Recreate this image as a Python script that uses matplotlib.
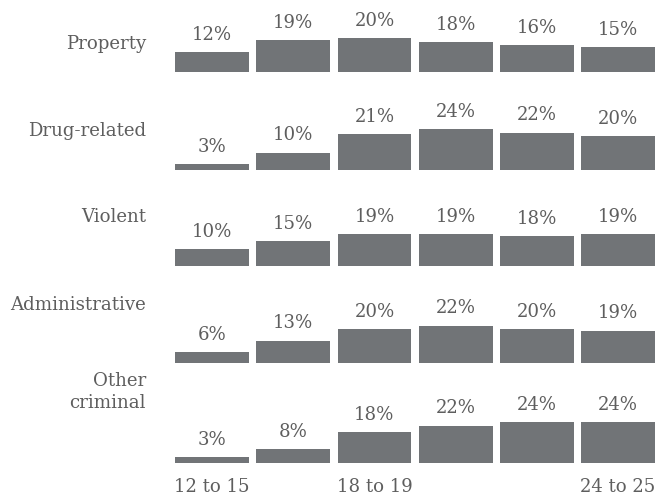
import matplotlib
matplotlib.use("Agg")
import matplotlib.pyplot as plt

# share of offences by age group, one row per offence type
offence_types = ["Property", "Drug-related", "Violent", "Administrative", "Other\ncriminal"]
age_labels = ["12 to 15", "", "18 to 19", "", "", "24 to 25"]

property_pct = [12, 19, 20, 18, 16, 15]
drug_pct = [3, 10, 21, 24, 22, 20]
violent_pct = [10, 15, 19, 19, 18, 19]
admin_pct = [6, 13, 20, 22, 20, 19]
other_pct = [3, 8, 18, 22, 24, 24]

rows = [property_pct, drug_pct, violent_pct, admin_pct, other_pct]

bar_color = "#717477"
text_color = "#5e5e5e"
plt.rcParams["font.family"] = ["DejaVu Serif"]

W, H = 656, 497
fig = plt.figure(figsize=(W / 100, H / 100), dpi=100)

# layout in pixels (from top of the picture)
baselines = [72, 169.5, 266, 362.5, 462.5]
label_centers = [44, 130.5, 217.5, 305, 392]
ax_left, ax_right = 171.5, 656
unit = 81.2
px_per_pct = 1.68
ymax = 30
fs = 13.1

x = list(range(len(age_labels)))
for i, (vals, name) in enumerate(zip(rows, offence_types)):
    h = ymax * px_per_pct
    ax = fig.add_axes([ax_left / W, 1 - baselines[i] / H, (ax_right - ax_left) / W, h / H])
    ax.bar(x, vals, width=0.907, color=bar_color, linewidth=0)
    ax.set_xlim(-0.5, -0.5 + (ax_right - ax_left) / unit)
    ax.set_ylim(0, ymax)
    for xi, v in zip(x, vals):
        ax.annotate(f"{v}%", (xi, v), xytext=(0, 8.8), textcoords="offset points",
                    ha="center", va="baseline", fontsize=fs, color=text_color)
    for s in ax.spines.values():
        s.set_visible(False)
    ax.set_yticks([])
    if i == len(rows) - 1:
        ax.set_xticks(x)
        ax.set_xticklabels(age_labels, fontsize=fs, color=text_color)
        ax.tick_params(axis="x", length=0, pad=11)
    else:
        ax.set_xticks([])
    fig.text(146 / W, 1 - label_centers[i] / H, name, ha="right", va="center",
             multialignment="right", fontsize=fs, color=text_color, linespacing=1.3)

fig.savefig("out.png", dpi=100)
